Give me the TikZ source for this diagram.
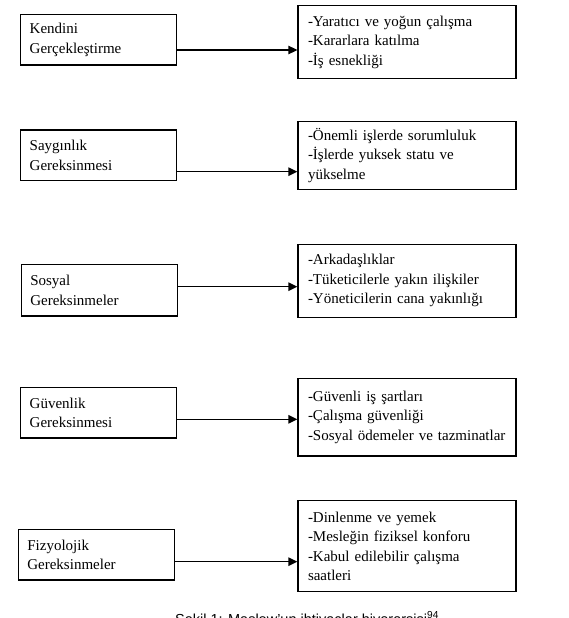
\documentclass[tikz,border=0pt]{standalone}
\usepackage{fontspec}
\setmainfont{Liberation Serif}
\setsansfont{Liberation Sans}
\usetikzlibrary{arrows.meta}
\begin{document}
\begin{tikzpicture}[x=1pt,y=-1pt,
  box/.style={draw, line width=1.3pt, rectangle, align=left, inner ysep=2pt,
    font=\fontsize{15}{19.5}\selectfont},
  lbox/.style={box, minimum width=156pt, text width=138pt, inner xsep=9pt, minimum height=50.7pt},
  rbox/.style={box, minimum width=218pt, text width=198pt, inner xsep=10pt},
  conn/.style={draw, line width=1.3pt, -{Triangle[length=9pt,width=8.5pt]}}]
\useasboundingbox (0,0) rectangle (569,618);
% left boxes
\node[lbox] (l1) at (98.7,39.65) {Kendini\\Gerçekleştirme};
\node[lbox] (l2) at (98.7,155.35) {Saygınlık\\Gereksinmesi};
\node[lbox, minimum height=51.7pt] (l3) at (99.3,290.15) {Sosyal\\Gereksinmeler};
\node[lbox] (l4) at (98.7,412.65) {Güvenlik\\Gereksinmesi};
\node[lbox] (l5) at (96.35,554.65) {Fizyolojik\\Gereksinmeler};
% right boxes
\node[rbox, minimum height=73pt] (r1) at (407,42.2) {-Yaratıcı ve yoğun çalışma\\-Kararlara katılma\\-İş esnekliği};
\node[rbox, minimum height=67.6pt] (r2) at (407,155.5) {-Önemli işlerde sorumluluk\\-İşlerde yuksek statu ve\\yükselme};
\node[rbox, minimum height=73pt] (r3) at (407,280.8) {-Arkadaşlıklar\\-Tüketicilerle yakın ilişkiler\\-Yöneticilerin cana yakınlığı};
\node[rbox, minimum height=77.7pt] (r4) at (407,417.15) {-Güvenli iş şartları\\-Çalışma güvenliği\\-Sosyal ödemeler ve tazminatlar};
\node[rbox, minimum height=91pt] (r5) at (407,546.2) {-Dinlenme ve yemek\\-Mesleğin fiziksel konforu\\-Kabul edilebilir çalışma\\saatleri};
% arrow levels
\coordinate (a1) at (0,50);
\coordinate (a2) at (0,171.7);
\coordinate (a3) at (0,286.7);
\coordinate (a4) at (0,419.3);
\coordinate (a5) at (0,561.7);
\draw[conn] (l1.east |- a1) -- (r1.west |- a1);
\draw[conn] (l2.east |- a2) -- (r2.west |- a2);
\draw[conn] (l3.east |- a3) -- (r3.west |- a3);
\draw[conn] (l4.east |- a4) -- (r4.west |- a4);
\draw[conn] (l5.east |- a5) -- (r5.west |- a5);
% caption (cut off at the bottom edge, as in the reference)
\node[anchor=base west, inner sep=0pt, font=\sffamily\fontsize{14.5}{17}\selectfont] (cap) at (175,624) {Şekil 1: Maslow'un ihtiyaçlar hiyerarşisi\textsuperscript{94}};
\end{tikzpicture}
\end{document}
